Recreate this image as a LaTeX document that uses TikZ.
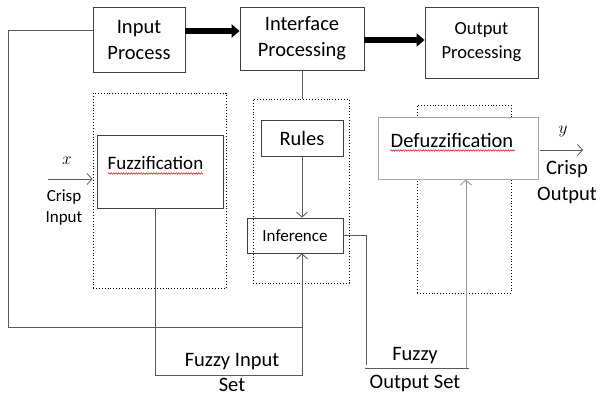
\documentclass[tikz,border=0pt]{standalone}
\usepackage{fontspec}
\setmainfont{Carlito}
\usetikzlibrary{arrows.meta,decorations.pathmorphing,calc}
\begin{document}
\begin{tikzpicture}[x=1pt,y=-1pt,
  box/.style={draw=black!75, line width=0.8pt, inner sep=0pt},
  dotbox/.style={draw=black, dotted, line width=0.9pt, inner sep=0pt},
  lin/.style={draw=black!65, line width=0.8pt},
  lite/.style={draw=black!40, line width=0.9pt},
  tip/.style={-{Straight Barb[length=5pt,width=11pt]}},
  big/.style={line width=5.5pt, -{Triangle[length=8pt,width=13pt]}},
  txt/.style={font=\fontsize{20.5}{26}\selectfont, align=center, inner sep=0pt},
  btxt/.style={font=\fontsize{20.5}{26}\selectfont, inner sep=0pt, anchor=base},
  stxt/.style={font=\fontsize{18.5}{24}\selectfont, align=center, inner sep=0pt},
  small/.style={font=\fontsize{17}{21}\selectfont, align=center, inner sep=0pt},
  squig/.style={draw=red!85!black, line width=0.5pt, decorate, decoration={snake, amplitude=0.7pt, segment length=2.5pt}},
]
\useasboundingbox[fill=white] (0,0) rectangle (603,396);

% top row
\node[box, minimum width=92pt, minimum height=65pt, txt] (inp) at (139,39.5) {Input\\Process};
\node[box, minimum width=124pt, minimum height=63pt, txt] (iface) at (302,38.5) {Interface\\Processing};
\node[box, minimum width=113pt, minimum height=71pt, stxt] (outp) at (481.5,42.5) {Output\\Processing};

\coordinate (a1s) at ($(inp.east)+(0,-8.5)$);
\draw[big] (a1s) -- (a1s -| iface.west);
\coordinate (a2s) at ($(iface.east)+(0,1.5)$);
\draw[big] (a2s) -- (a2s -| outp.west);

% fuzzification
\node[dotbox, minimum width=133pt, minimum height=195pt] (fuzdot) at (159.5,190.5) {};
\node[box, minimum width=126pt, minimum height=73pt] (fuz) at (160,171.5) {};
\node[font=\fontsize{19}{23}\selectfont, inner sep=0pt] (fuzt) at (155.5,163) {Fuzzification};
\draw[squig] (108,173.5) -- (203,173.5);

% interface
\node[dotbox, minimum width=96pt, minimum height=184pt] (ifdot) at (301,191) {};
\node[box, minimum width=82pt, minimum height=36pt, txt] (rules) at (302,138) {Rules};
\node[box, minimum width=96pt, minimum height=35pt, small] (infer) at (295,235.5) {Inference};

% defuzzification
\node[dotbox, minimum width=94pt, minimum height=188pt] (defdot) at (464,199) {};
\node[draw=black!35, line width=0.9pt, fill=white, minimum width=160pt, minimum height=62pt, inner sep=0pt] (def) at (458,148) {};
\node[txt] (deft) at (452,140) {Defuzzification};
\draw[squig] (390,150.5) -- (515,150.5);

% connectors
\draw[lin] (iface.south) -- (iface.south |- ifdot.north);
\draw[lin, tip] (rules.south) -- (rules.south |- infer.north);

\coordinate (fb0) at ($(inp.west)+(0,-9.5)$);
\coordinate (fbj) at (302,327);
\draw[lin] (fb0) -- (8,30) -- (8,327) -- (fbj);

\coordinate (fz) at (155,208);
\draw[lin, tip] (fz) -- (155,375) -- (302,375) -- (rules.south |- infer.south);

\coordinate (ie) at (366,235.5);
\draw[lin] (infer.east) -- (ie) -- (366,365);
\coordinate (hl) at (365,368);
\draw[lin] (hl) -- (469,368);
\coordinate (dv) at (466,368);
\draw[lite, tip] (dv) -- (dv |- def.south);

\coordinate (ia) at (48,179);
\draw[lin, tip] (ia) -- (ia -| fuzdot.west);
\coordinate (oa) at (540,150);
\draw[lin, tip] (oa) -- (583,150);

% labels
\node[font=\fontsize{17}{20}\selectfont] (xl) at (67,161) {$x$};
\node[small] (cin) at (64,208) {Crisp\\Input};
\node[font=\fontsize{17}{20}\selectfont] (yl) at (563,131) {$y$};
\node[txt] (cout) at (567,182) {Crisp\\Output};
\node[btxt] (fin1) at (232,366.5) {Fuzzy Input};
\node[btxt] (fin2) at (232,391.5) {Set};
\node[btxt] (fout1) at (415,360) {Fuzzy};
\node[btxt] (fout2) at (415,388) {Output Set};
\end{tikzpicture}
\end{document}
